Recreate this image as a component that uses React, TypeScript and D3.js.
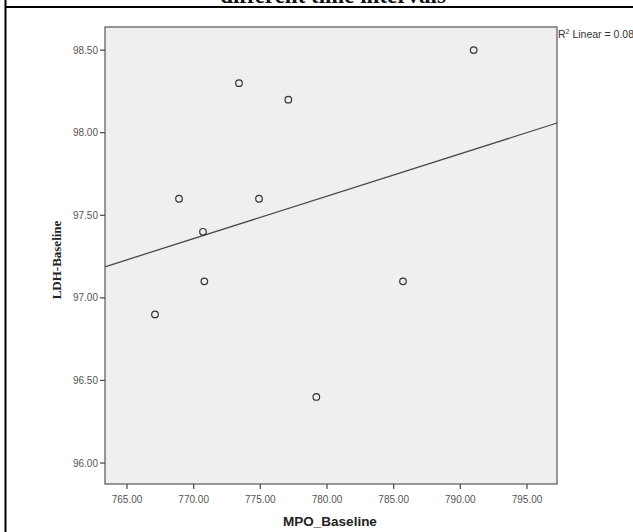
import React from "react";
import * as d3 from "d3";

const mpo: number[] = [767.1, 768.9, 770.7, 770.8, 773.4, 774.9, 777.1, 779.2, 785.7, 791.0];
const ldh: number[] = [96.9, 97.6, 97.4, 97.1, 98.3, 97.6, 98.2, 96.4, 97.1, 98.5];
const xTicks: number[] = [765, 770, 775, 780, 785, 790, 795];
const yTicks: number[] = [96.0, 96.5, 97.0, 97.5, 98.0, 98.5];
const titleText = "different time intervals";
const xTitle = "MPO_Baseline";
const yTitle = "LDH-Baseline";

const W = 633;
const H = 532;
const plot = { left: 105, right: 557, top: 27, bottom: 484 };

export default function App() {
  const x = d3.scaleLinear().domain([763.35, 797.25]).range([plot.left, plot.right]);
  const y = d3.scaleLinear().domain([95.873, 98.64]).range([plot.bottom, plot.top]);

  const mx = d3.mean(mpo) as number;
  const my = d3.mean(ldh) as number;
  let sxy = 0, sxx = 0, syy = 0;
  mpo.forEach((v, i) => {
    sxy += (v - mx) * (ldh[i] - my);
    sxx += (v - mx) ** 2;
    syy += (ldh[i] - my) ** 2;
  });
  const slope = sxy / sxx;
  const icpt = my - slope * mx;
  const r2 = (sxy * sxy) / (sxx * syy);
  const [x0, x1] = x.domain();
  const line = d3.line<number>().x((d) => x(d)).y((d) => y(icpt + slope * d));

  const sans = "'Liberation Sans', Arial, sans-serif";
  const serif = "'Liberation Serif', 'Times New Roman', serif";

  return (
    <svg width={W} height={H} style={{ position: "absolute", left: 0, top: 0, background: "#fff" }}>
      <text x={333} y={3} textAnchor="middle" fontFamily={serif} fontWeight="bold" fontSize={23} fill="#111">
        {titleText}
      </text>
      <line x1={5.5} x2={5.5} y1={0} y2={H} stroke="#000" strokeWidth={2} />
      <line x1={5} x2={W} y1={7} y2={7} stroke="#000" strokeWidth={2} />

      <rect x={plot.left} y={plot.top} width={plot.right - plot.left} height={plot.bottom - plot.top}
        fill="#efefef" stroke="#555" strokeWidth={1.2} />

      {yTicks.map((t) => (
        <g key={"y" + t}>
          <line x1={plot.left - 5} x2={plot.left} y1={y(t)} y2={y(t)} stroke="#444" strokeWidth={1.2} />
          <text x={plot.left - 7} y={y(t) + 3.5} textAnchor="end" fontFamily={sans} fontSize={10} fill="#555">
            {t.toFixed(2)}
          </text>
        </g>
      ))}
      {xTicks.map((t) => (
        <g key={"x" + t}>
          <line x1={x(t)} x2={x(t)} y1={plot.bottom} y2={plot.bottom + 5} stroke="#444" strokeWidth={1.2} />
          <text x={x(t)} y={plot.bottom + 19} textAnchor="middle" fontFamily={sans} fontSize={10} fill="#555">
            {t.toFixed(2)}
          </text>
        </g>
      ))}

      <path d={line([x0, x1]) || ""} fill="none" stroke="#4a4a4a" strokeWidth={1.3} />

      {mpo.map((v, i) => (
        <circle key={i} cx={x(v)} cy={y(ldh[i])} r={3.3} fill="none" stroke="#333" strokeWidth={1.2} />
      ))}

      <text x={plot.right + 1} y={38} fontFamily={sans} fontSize={10.5} fill="#333">
        R<tspan dy={-4} fontSize={7}>2</tspan><tspan dy={4}> Linear = {r2.toFixed(3)}</tspan>
      </text>

      <text x={330} y={526} textAnchor="middle" fontFamily={sans} fontWeight="bold" fontSize={13.5} fill="#222">
        {xTitle}
      </text>
      <text transform={`translate(61, 260) rotate(-90)`} textAnchor="middle" fontFamily={serif} fontWeight="bold" fontSize={13} fill="#222">
        {yTitle}
      </text>
    </svg>
  );
}
